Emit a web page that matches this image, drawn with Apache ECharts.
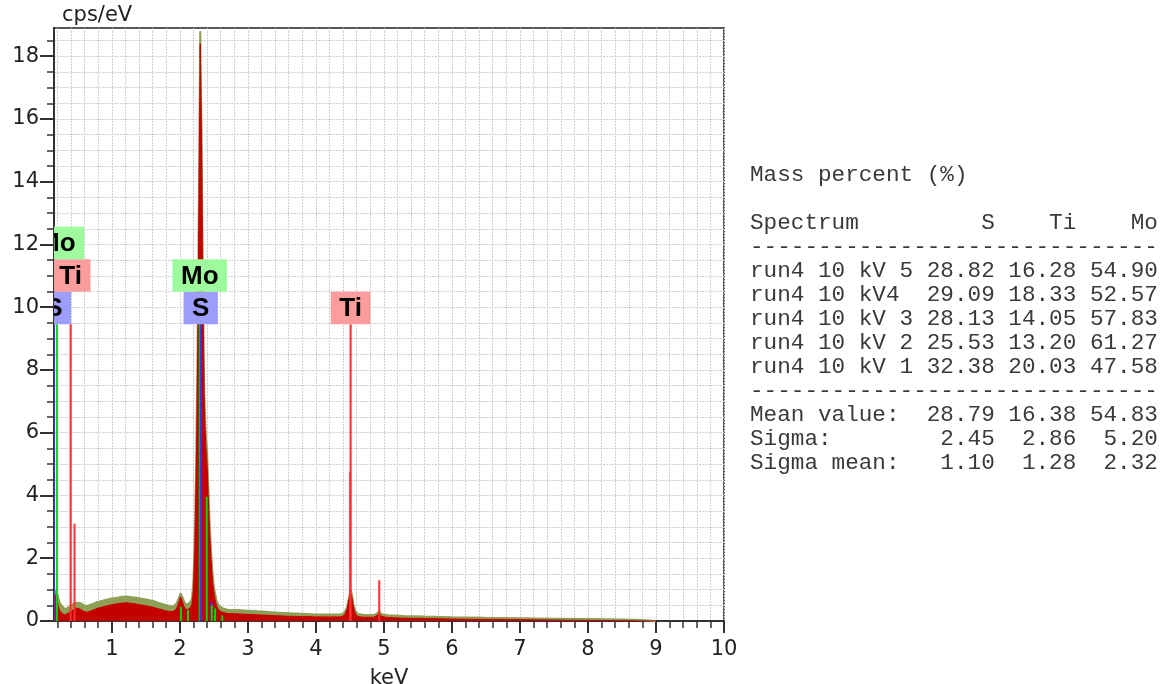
<!DOCTYPE html>
<html>
<head>
<meta charset="utf-8">
<script src="https://cdn.jsdelivr.net/npm/echarts@6/dist/echarts.min.js"></script>
<style>
  html, body { margin: 0; padding: 0; background: #fff; }
  #chart { width: 1172px; height: 684px; }
</style>
</head>
<body>
<div id="chart"></div>
<script>
// EDS spectrum: energy (keV) and counts (cps/eV)
const specEnergy = [
  0.15, 0.17, 0.19, 0.21, 0.23, 0.25, 0.28, 0.31, 0.34, 0.37, 0.40, 0.43, 0.47, 0.51, 0.55, 0.59,
  0.63, 0.67, 0.72, 0.78, 0.85, 0.92, 1.00, 1.08, 1.15, 1.22, 1.30, 1.38, 1.46, 1.54, 1.62, 1.70,
  1.78, 1.85, 1.90, 1.95, 1.98, 2.01, 2.04, 2.07, 2.10, 2.13, 2.16, 2.18, 2.20, 2.22, 2.24, 2.26,
  2.28, 2.30, 2.32, 2.34, 2.36, 2.38, 2.40, 2.42, 2.44, 2.46, 2.48, 2.50, 2.52, 2.54, 2.57, 2.62,
  2.70, 2.80, 2.90, 3.00, 3.20, 3.40, 3.60, 3.80, 4.00, 4.20, 4.36, 4.42, 4.46, 4.49, 4.51, 4.53,
  4.55, 4.58, 4.62, 4.70, 4.85, 4.90, 4.93, 4.96, 5.05, 5.30, 5.60, 6.00, 6.50, 7.00, 7.50, 8.00,
  8.50, 8.80, 9.00
];
// upper envelope of the overlaid runs
const specEnvelope = [
  0.95, 1.00, 0.95, 0.75, 0.62, 0.52, 0.45, 0.38, 0.40, 0.45, 0.50, 0.55, 0.57, 0.58, 0.56, 0.50,
  0.48, 0.50, 0.54, 0.60, 0.64, 0.68, 0.72, 0.74, 0.77, 0.78, 0.76, 0.73, 0.70, 0.67, 0.63, 0.57,
  0.52, 0.48, 0.47, 0.55, 0.70, 0.88, 0.75, 0.58, 0.52, 0.55, 0.62, 0.75, 1.30, 2.70, 5.00, 8.50,
  13.5, 18.8, 15.5, 10.5, 7.20, 6.00, 5.40, 4.20, 3.00, 2.20, 1.50, 1.10, 0.85, 0.65, 0.50, 0.42,
  0.36, 0.35, 0.34, 0.33, 0.30, 0.27, 0.25, 0.23, 0.21, 0.21, 0.21, 0.26, 0.45, 0.80, 0.99, 0.85,
  0.55, 0.30, 0.22, 0.20, 0.19, 0.24, 0.32, 0.22, 0.18, 0.16, 0.14, 0.12, 0.10, 0.09, 0.075, 0.06,
  0.045, 0.03, 0.0
];
// main run (filled)
const specMain = [
  0.85, 0.90, 0.80, 0.50, 0.35, 0.28, 0.22, 0.20, 0.22, 0.27, 0.30, 0.35, 0.40, 0.40, 0.36, 0.30,
  0.28, 0.30, 0.34, 0.40, 0.44, 0.48, 0.52, 0.55, 0.57, 0.58, 0.56, 0.53, 0.50, 0.47, 0.43, 0.38,
  0.33, 0.30, 0.30, 0.38, 0.55, 0.77, 0.60, 0.42, 0.36, 0.38, 0.44, 0.55, 1.00, 2.30, 4.60, 8.00,
  13.0, 18.4, 15.0, 10.0, 6.80, 5.60, 5.00, 3.80, 2.70, 1.90, 1.25, 0.90, 0.65, 0.48, 0.35, 0.28,
  0.24, 0.23, 0.22, 0.21, 0.19, 0.17, 0.15, 0.14, 0.13, 0.13, 0.13, 0.18, 0.38, 0.72, 0.90, 0.75,
  0.45, 0.22, 0.14, 0.12, 0.12, 0.17, 0.26, 0.15, 0.11, 0.09, 0.08, 0.06, 0.05, 0.04, 0.03, 0.02,
  0.01, 0.0, 0.0
];

// element line markers (keV, height in cps/eV, element)
const markerEnergy  = [0.149, 0.192, 0.395, 0.452, 2.016, 2.120, 2.293, 2.307, 2.395, 2.464, 2.470, 2.518, 2.623, 4.505, 4.511, 4.932];
const markerHeight  = [9.46,  9.46,  9.46,  3.10,  0.45,  0.35,  9.46,  9.46,  3.96,  0.60,  0.50,  0.40,  0.18,  4.76,  9.46,  1.30];
const markerElement = ['S',   'Mo',  'Ti',  'Ti',  'Mo',  'Mo',  'Mo',  'S',   'Mo',  'S',   'Mo',  'Mo',  'Mo',  'Ti',  'Ti',  'Ti'];

// element labels, stacked upward from the label base
const labelEnergy  = [0.149, 0.395, 0.192, 2.307, 2.293, 4.511];
const labelElement = ['S',   'Ti',  'Mo',  'S',   'Mo',  'Ti'];
const labelLevel   = [0,     1,     2,     0,     1,     0];
const labelBase = 9.46;

// axis ticks
const xMajorTicks = [1, 2, 3, 4, 5, 6, 7, 8, 9, 10];
const yMajorTicks = [0, 2, 4, 6, 8, 10, 12, 14, 16, 18];

// quantification table
const tableElements = ['S', 'Ti', 'Mo'];
const runNames = ['run4 10 kV 5', 'run4 10 kV4', 'run4 10 kV 3', 'run4 10 kV 2', 'run4 10 kV 1'];
const runS  = [28.82, 29.09, 28.13, 25.53, 32.38];
const runTi = [16.28, 18.33, 14.05, 13.20, 20.03];
const runMo = [54.90, 52.57, 57.83, 61.27, 47.58];
const meanValue  = [28.79, 16.38, 54.83];
const sigmaValue = [2.45, 2.86, 5.20];
const sigmaMean  = [1.10, 1.28, 2.32];

const lineColor = { S: '#3434ff', Ti: '#ff2e2e', Mo: '#00dc00' };
const boxColor  = { S: '#9d9dfb', Ti: '#fb9d9d', Mo: '#9dfb9d' };

// minor tick positions every 0.2 keV / 0.5 cps/eV
const xMinorTicks = [];
for (let k = 1; k <= 50; k++) xMinorTicks.push(Math.round(k * 2) / 10);
const yMinorTicks = [];
for (let k = 0; k <= 37; k++) yMinorTicks.push(k * 0.5);

function fmtRow(name, vals) {
  return name.padEnd(12) + vals.map(v => v.toFixed(2).padStart(6)).join('');
}
const tableLines = [
  'Mass percent (%)',
  '',
  'Spectrum'.padEnd(12) + tableElements.map(e => e.padStart(6)).join(''),
  '-'.repeat(30)
];
runNames.forEach((n, i) => tableLines.push(fmtRow(n, [runS[i], runTi[i], runMo[i]])));
tableLines.push('-'.repeat(30));
tableLines.push(fmtRow('Mean value:', meanValue));
tableLines.push(fmtRow('Sigma:', sigmaValue));
tableLines.push(fmtRow('Sigma mean:', sigmaMean));

const labelFont = 'bold 26px "Liberation Sans", Arial, sans-serif';
const measureCtx = document.createElement('canvas').getContext('2d');
measureCtx.font = labelFont;

const axisColor = '#333';
const gridLine = { color: '#d0d0d0', type: [2, 1], width: 1 };
const tickFont = { fontFamily: '"DejaVu Sans", Verdana, sans-serif', fontSize: 21, color: '#222' };

const chart = echarts.init(document.getElementById('chart'), null, { renderer: 'canvas' });
chart.setOption({
  animation: false,
  backgroundColor: '#fff',
  grid: {
    left: 54, right: 448, top: 28, bottom: 63,
    containLabel: false, outerBoundsMode: 'none',
    show: true, borderColor: '#5a5a5a', borderWidth: 2
  },
  xAxis: [
    {
      type: 'value', min: 0.15, max: 10, position: 'bottom',
      name: 'keV', nameLocation: 'middle', nameGap: 47,
      nameTextStyle: tickFont,
      axisLine: { show: true, onZero: false, lineStyle: { color: axisColor, width: 2 } },
      axisTick: { show: true, customValues: xMajorTicks, length: 12, lineStyle: { color: axisColor, width: 2 } },
      axisLabel: Object.assign({ customValues: xMajorTicks, margin: 18 }, tickFont),
      splitLine: { show: false }
    },
    {
      type: 'value', min: 0.15, max: 10, position: 'bottom',
      axisLine: { show: false },
      axisTick: { show: true, customValues: xMinorTicks, length: 7, lineStyle: { color: axisColor, width: 1.5 } },
      axisLabel: { show: false },
      splitLine: { show: true, lineStyle: gridLine }
    }
  ],
  yAxis: [
    {
      type: 'value', min: 0, max: 18.9, position: 'left',
      name: 'cps/eV', nameLocation: 'end', nameGap: 12,
      nameTextStyle: Object.assign({ align: 'left', verticalAlign: 'middle', padding: [0, 0, 0, 8] }, tickFont),
      axisLine: { show: true, onZero: false, lineStyle: { color: axisColor, width: 2 } },
      axisTick: { show: true, customValues: yMajorTicks, length: 14, lineStyle: { color: axisColor, width: 2 } },
      axisLabel: Object.assign({ customValues: yMajorTicks, margin: 15 }, tickFont),
      splitLine: { show: false }
    },
    {
      type: 'value', min: 0, max: 18.9, position: 'left',
      axisLine: { show: false },
      axisTick: { show: true, customValues: yMinorTicks, length: 7, lineStyle: { color: axisColor, width: 1.5 } },
      axisLabel: { show: false },
      splitLine: { show: true, lineStyle: gridLine }
    }
  ],
  series: [
    {
      name: 'envelope', type: 'line', xAxisIndex: 0, yAxisIndex: 0,
      data: specEnergy.map((e, i) => [e, specEnvelope[i]]),
      symbol: 'none', smooth: false,
      lineStyle: { color: '#8e9f58', width: 2 },
      areaStyle: { color: '#8e9f58', opacity: 1 },
      z: 2
    },
    {
      name: 'main', type: 'line', xAxisIndex: 0, yAxisIndex: 0,
      data: specEnergy.map((e, i) => [e, specMain[i]]),
      symbol: 'none', smooth: false,
      lineStyle: { color: '#c40000', width: 1 },
      areaStyle: { color: '#c40000', opacity: 1 },
      z: 3
    },
    {
      name: 'markers', type: 'custom', xAxisIndex: 0, yAxisIndex: 0, clip: true, z: 4,
      data: markerEnergy.map((e, i) => [e, markerHeight[i]]),
      renderItem: function (params, api) {
        const el = markerElement[params.dataIndex];
        const p0 = api.coord([api.value(0), 0]);
        const p1 = api.coord([api.value(0), api.value(1)]);
        return {
          type: 'line',
          shape: { x1: p0[0], y1: p0[1], x2: p1[0], y2: p1[1] },
          style: { stroke: lineColor[el], lineWidth: 2 }
        };
      }
    },
    {
      name: 'labels', type: 'custom', xAxisIndex: 0, yAxisIndex: 0, clip: true, z: 5,
      data: labelEnergy.map((e, i) => [e, labelLevel[i]]),
      renderItem: function (params, api) {
        const el = labelElement[params.dataIndex];
        const level = api.value(1);
        const base = api.coord([api.value(0), labelBase]);
        const h = 32.5;
        const w = measureCtx.measureText(el).width + 17;
        const top = base[1] - h * (level + 1);
        return {
          type: 'group',
          children: [
            { type: 'rect', shape: { x: base[0] - w / 2, y: top, width: w, height: h },
              style: { fill: boxColor[el] } },
            { type: 'text', x: base[0], y: top + h / 2 + 1,
              style: { text: el, font: labelFont, fill: '#000', align: 'center', verticalAlign: 'middle' } }
          ]
        };
      }
    }
  ],
  graphic: [
    {
      type: 'text', left: 750, top: 163,
      style: {
        text: tableLines.join('\n'),
        font: '22.67px "Liberation Mono", "Courier New", monospace',
        lineHeight: 24,
        fill: '#3a3a3a'
      }
    }
  ]
});
</script>
</body>
</html>
